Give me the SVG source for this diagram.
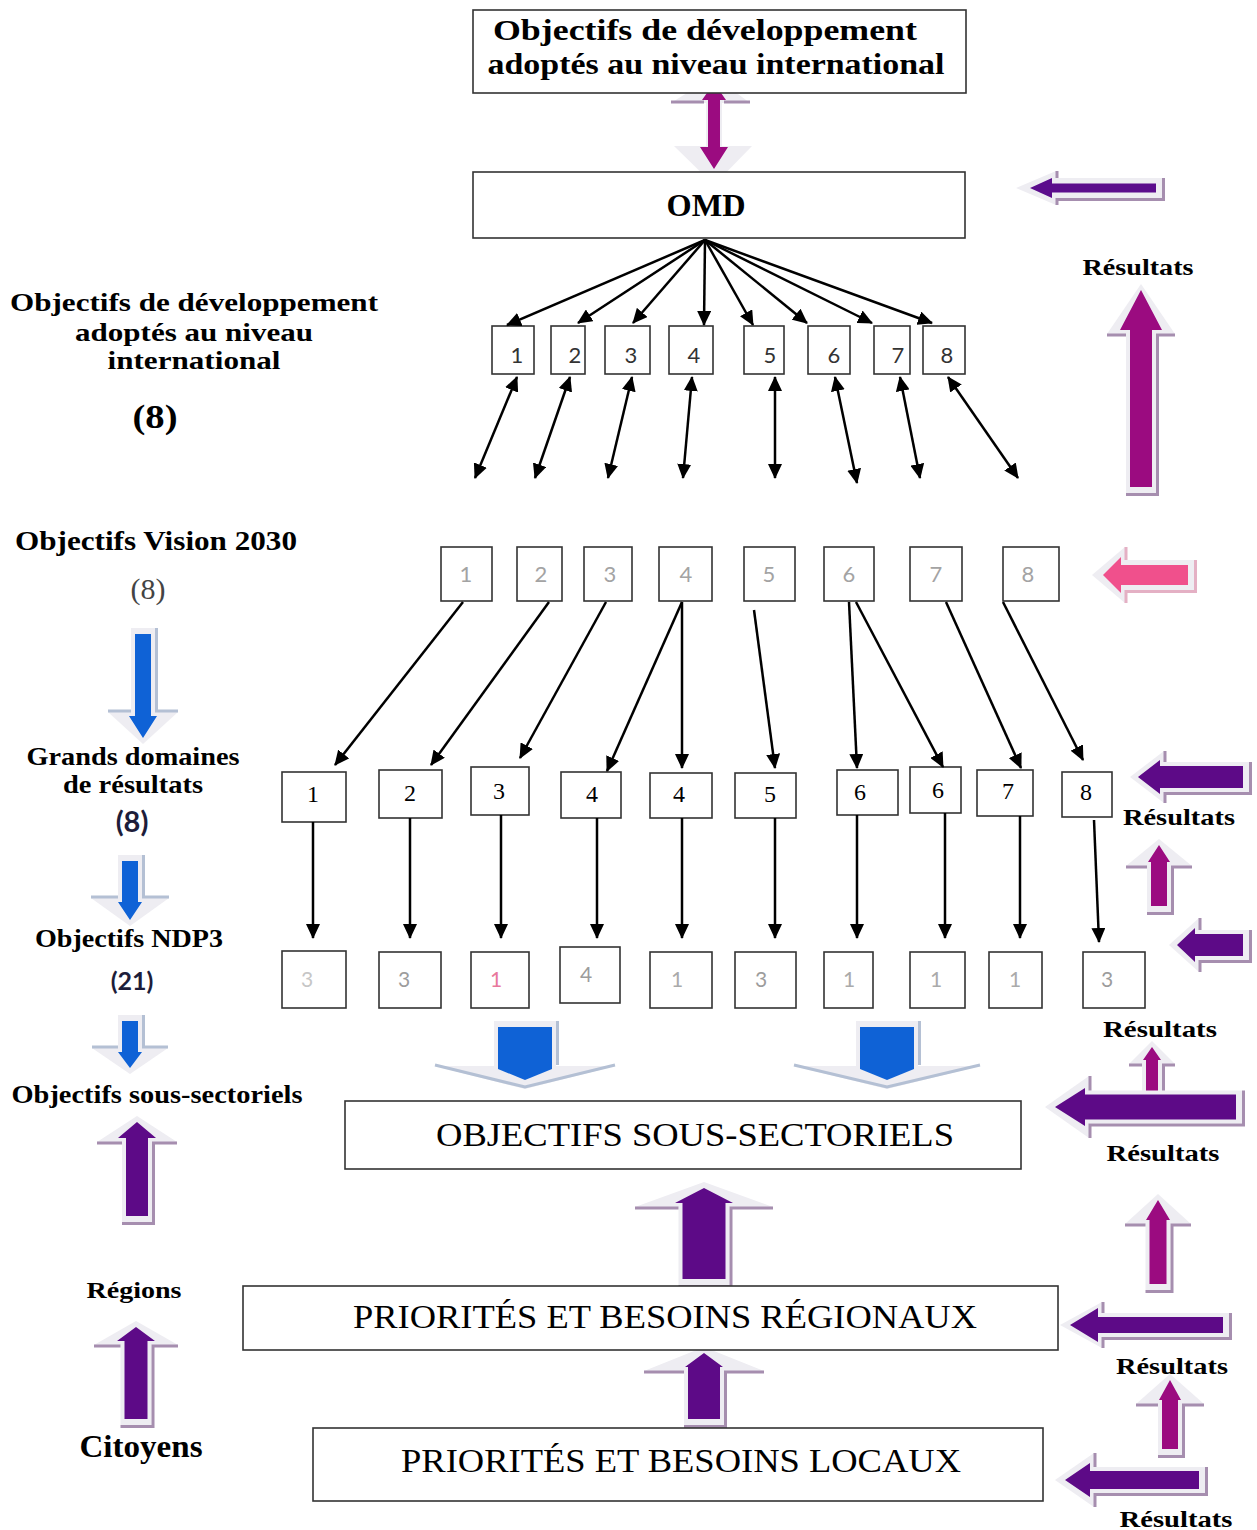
<svg xmlns="http://www.w3.org/2000/svg" width="1257" height="1530" viewBox="0 0 1257 1530">
<style>
.bx{fill:#fff;stroke:#333;stroke-width:1.6}
.tb{font-family:"Liberation Serif","Times New Roman",serif;font-weight:bold;fill:#000;text-anchor:middle}
.tr{font-family:"Liberation Serif","Times New Roman",serif;fill:#000;text-anchor:middle}
.ts{font-family:Lato,"Open Sans",sans-serif;text-anchor:middle}
.cn{stroke:#000;stroke-width:2.5;fill:none}
.po{fill:#eeedf2}
.sh{stroke:#a68eaf;stroke-width:3;fill:none}
.shb{stroke:#b4c0d4;stroke-width:3;fill:none}
.mg{fill:#9b0b80}
.pu{fill:#5d0a87}
.bl{fill:#0f62d6}
.pk{fill:#f0508c}
</style>
<defs>
<marker id="ah" markerUnits="userSpaceOnUse" markerWidth="16" markerHeight="14" refX="14" refY="7" orient="auto-start-reverse">
<path d="M0,0 L15,7 L0,14 Z" fill="#000"/>
</marker>
</defs>
<rect width="1257" height="1530" fill="#fff"/>

<!-- block arrows -->
<g id="block-arrows">
<g id="ba-top">
<path class="po" d="M714,76 L750,103 L722,103 L722,146 L752,146 L714,185 L674,146 L706,146 L706,103 L671,103 Z"/>
<path class="sh" d="M671,102 H704 M724,102 H750"/>
<path class="mg" d="M714,83 L726,100 L720,100 L720,147 L728,147 L714,169 L700,147 L708,147 L708,100 L702,100 Z"/>
</g>
<g id="ba-r1" transform="translate(1141,290)">
<path class="po" d="M0,-6 L34,44 L15,44 L15,203 L-15,203 L-15,44 L-34,44 Z"/>
<path class="sh" d="M-34,45 H-15 M15,45 H34 M-15,204.5 H16.5 V45"/>
<path class="mg" d="M0,0 L21,40 L11,40 L11,197 L-11,197 L-11,40 L-21,40 Z"/>
</g>
<g id="ba-r2" transform="translate(1159,845)">
<path class="po" d="M0,-6 L33,21 L12,21 L12,67 L-12,67 L-12,21 L-33,21 Z"/>
<path class="sh" d="M-33,22 H-12 M12,22 H33 M-12,68.5 H13.5 V22"/>
<path class="mg" d="M0,0 L11,17 L8,17 L8,61 L-8,61 L-8,17 L-11,17 Z"/>
</g>
<g id="ba-r3" transform="translate(1152,1047)">
<path class="po" d="M0,-6 L23,17 L10,17 L10,55 L-10,55 L-10,17 L-23,17 Z"/>
<path class="sh" d="M-23,18 H-10 M10,18 H23 M-10,56.5 H11.5 V18"/>
<path class="mg" d="M0,0 L9,13 L6,13 L6,49 L-6,49 L-6,13 L-9,13 Z"/>
</g>
<g id="ba-r4" transform="translate(1158,1200)">
<path class="po" d="M0,-6 L33,24 L12.5,24 L12.5,90 L-12.5,90 L-12.5,24 L-33,24 Z"/>
<path class="sh" d="M-33,25 H-12.5 M12.5,25 H33 M-12.5,91.5 H14 V25"/>
<path class="mg" d="M0,0 L12,20 L8.5,20 L8.5,84 L-8.5,84 L-8.5,20 L-12,20 Z"/>
</g>
<g id="ba-r5" transform="translate(1170,1380)">
<path class="po" d="M0,-6 L34,24 L12,24 L12,75 L-12,75 L-12,24 L-34,24 Z"/>
<path class="sh" d="M-34,25 H-12 M12,25 H34 M-12,76.5 H13.5 V25"/>
<path class="mg" d="M0,0 L11,20 L8,20 L8,69 L-8,69 L-8,20 L-11,20 Z"/>
</g>
<g id="ba-l1" transform="translate(137,1122)">
<path class="po" d="M0,-6 L40,20 L15,20 L15,100 L-15,100 L-15,20 L-40,20 Z"/>
<path class="sh" d="M-40,21 H-15 M15,21 H40 M-15,101.5 H16.5 V21"/>
<path class="pu" d="M0,0 L19,16 L11,16 L11,94 L-11,94 L-11,16 L-19,16 Z"/>
</g>
<g id="ba-l2" transform="translate(136,1327)">
<path class="po" d="M0,-6 L42,18 L15.5,18 L15.5,98 L-15.5,98 L-15.5,18 L-42,18 Z"/>
<path class="sh" d="M-42,19 H-15.5 M15.5,19 H42 M-15.5,99.5 H17 V19"/>
<path class="pu" d="M0,0 L19,14 L11.5,14 L11.5,92 L-11.5,92 L-11.5,14 L-19,14 Z"/>
</g>
<g id="ba-c1" transform="translate(704,1188)">
<path class="po" d="M0,-6 L69,19 L25.5,19 L25.5,97 L-25.5,97 L-25.5,19 L-69,19 Z"/>
<path class="sh" d="M-69,20 H-25.5 M25.5,20 H69 M-25.5,98.5 H27 V20"/>
<path class="pu" d="M0,0 L29,15 L21.5,15 L21.5,91 L-21.5,91 L-21.5,15 L-29,15 Z"/>
</g>
<g id="ba-c2" transform="translate(704,1353)">
<path class="po" d="M0,-6 L60,18 L20,18 L20,72 L-20,72 L-20,18 L-60,18 Z"/>
<path class="sh" d="M-60,19 H-20 M20,19 H60 M-20,73.5 H21.5 V19"/>
<path class="pu" d="M0,0 L19,14 L16,14 L16,66 L-16,66 L-16,14 L-19,14 Z"/>
</g>
<g id="ba-h1" transform="matrix(0,1,1,0,1030,188)">
<path class="po" d="M0,-14 L17,26 L10,26 L10,132 L-10,132 L-10,26 L-17,26 Z"/>
<path class="sh" d="M-17,27 H-10 M10,27 H17 M-10,133.5 H11.5 V27"/>
<path d="M0,0 L10,22 L4.5,22 L4.5,126 L-4.5,126 L-4.5,22 L-10,22 Z" fill="#5b0d8c"/>
</g>
<g id="ba-h2" transform="matrix(0,1,1,0,1103,575)">
<path class="po" d="M0,-11 L28,22 L15,22 L15,91 L-15,91 L-15,22 L-28,22 Z"/>
<path class="sh" d="M-28,23 H-15 M15,23 H28 M-15,92.5 H16.5 V23" style="stroke:#e4b0c4"/>
<path class="pk" d="M0,0 L18,18 L10,18 L10,85 L-10,85 L-10,18 L-18,18 Z"/>
</g>
<g id="ba-h3" transform="matrix(0,1,1,0,1138,777)">
<path class="po" d="M0,-8 L26,26 L15,26 L15,111 L-15,111 L-15,26 L-26,26 Z"/>
<path class="sh" d="M-26,27 H-15 M15,27 H26 M-15,112.5 H16.5 V27"/>
<path class="pu" d="M0,0 L17,22 L11,22 L11,105 L-11,105 L-11,22 L-17,22 Z"/>
</g>
<g id="ba-h4" transform="matrix(0,1,1,0,1177,945)">
<path class="po" d="M0,-8 L27,22 L15,22 L15,72 L-15,72 L-15,22 L-27,22 Z"/>
<path class="sh" d="M-27,23 H-15 M15,23 H27 M-15,73.5 H16.5 V23"/>
<path class="pu" d="M0,0 L17,18 L11,18 L11,66 L-11,66 L-11,18 L-17,18 Z"/>
</g>
<g id="ba-h5" transform="matrix(0,1,1,0,1055,1107)">
<path class="po" d="M0,-10 L31,34 L16.5,34 L16.5,187 L-16.5,187 L-16.5,34 L-31,34 Z"/>
<path class="sh" d="M-31,35 H-16.5 M16.5,35 H31 M-16.5,188.5 H18 V35"/>
<path class="pu" d="M0,0 L19,30 L12.5,30 L12.5,181 L-12.5,181 L-12.5,30 L-19,30 Z"/>
</g>
<g id="ba-h6" transform="matrix(0,1,1,0,1070,1325)">
<path class="po" d="M0,-10 L23,32 L12,32 L12,159 L-12,159 L-12,32 L-23,32 Z"/>
<path class="sh" d="M-23,33 H-12 M12,33 H23 M-12,160.5 H13.5 V33"/>
<path class="pu" d="M0,0 L17,28 L8,28 L8,153 L-8,153 L-8,28 L-17,28 Z"/>
</g>
<g id="ba-h7" transform="matrix(0,1,1,0,1065,1480)">
<path class="po" d="M0,-10 L27,29 L13,29 L13,140 L-13,140 L-13,29 L-27,29 Z"/>
<path class="sh" d="M-27,30 H-13 M13,30 H27 M-13,141.5 H14.5 V30"/>
<path class="pu" d="M0,0 L17,25 L9,25 L9,134 L-9,134 L-9,25 L-17,25 Z"/>
</g>
<g id="ba-d1" transform="translate(143,738) scale(1,-1)">
<path class="po" d="M0,-6 L35,26 L12,26 L12,110 L-12,110 L-12,26 L-35,26 Z"/>
<path class="shb" d="M-35,27 H-12 M12,27 H35 M13.5,110 V27"/>
<path class="bl" d="M0,0 L14,22 L8,22 L8,104 L-8,104 L-8,22 L-14,22 Z"/>
</g>
<g id="ba-d2" transform="translate(130,920) scale(1,-1)">
<path class="po" d="M0,-6 L39,22 L12,22 L12,65 L-12,65 L-12,22 L-39,22 Z"/>
<path class="shb" d="M-39,23 H-12 M12,23 H39 M13.5,65 V23"/>
<path class="bl" d="M0,0 L12,18 L8,18 L8,59 L-8,59 L-8,18 L-12,18 Z"/>
</g>
<g id="ba-d3" transform="translate(130,1068) scale(1,-1)">
<path class="po" d="M0,-6 L38,20 L12,20 L12,53 L-12,53 L-12,20 L-38,20 Z"/>
<path class="shb" d="M-38,21 H-12 M12,21 H38 M13.5,53 V21"/>
<path class="bl" d="M0,0 L12,16 L8,16 L8,47 L-8,47 L-8,16 L-12,16 Z"/>
</g>
<g id="ba-d4" transform="translate(525,1080) scale(1,-1)">
<path class="po" d="M0,-9 L90,14 L31,14 L31,59 L-31,59 L-31,14 L-90,14 Z"/>
<path class="shb" d="M-90,15 L0,-7 L90,15 M32.5,59 V15"/>
<path class="bl" d="M0,0 L27,11 L27,53 L-27,53 L-27,11 Z"/>
</g>
<g id="ba-d5" transform="translate(887,1080) scale(1,-1)">
<path class="po" d="M0,-9 L93,14 L31,14 L31,59 L-31,59 L-31,14 L-93,14 Z"/>
<path class="shb" d="M-93,15 L0,-7 L93,15 M32.5,59 V15"/>
<path class="bl" d="M0,0 L27,11 L27,53 L-27,53 L-27,11 Z"/>
</g>
</g>

<!-- nodes -->
<g id="node-top"><rect class="bx" x="473" y="10" width="493" height="83"/>
<text class="tb" x="705" y="40" font-size="29" textLength="424" lengthAdjust="spacingAndGlyphs">Objectifs de développement</text>
<text class="tb" x="716" y="74" font-size="29" textLength="457" lengthAdjust="spacingAndGlyphs">adoptés au niveau international</text></g>
<g id="node-omd"><rect class="bx" x="473" y="172" width="492" height="66"/>
<text class="tb" x="706" y="216" font-size="32" textLength="79" lengthAdjust="spacingAndGlyphs">OMD</text></g>

<g id="row1" font-size="22">
<g id="o1"><rect class="bx" x="492" y="326" width="42" height="48"/><text class="ts" x="517" y="363" fill="#333">1</text></g>
<g id="o2"><rect class="bx" x="551" y="326" width="34" height="48"/><text class="ts" x="575" y="363" fill="#333">2</text></g>
<g id="o3"><rect class="bx" x="605" y="326" width="45" height="48"/><text class="ts" x="631" y="363" fill="#333">3</text></g>
<g id="o4"><rect class="bx" x="669" y="326" width="44" height="48"/><text class="ts" x="694" y="363" fill="#333">4</text></g>
<g id="o5"><rect class="bx" x="744" y="326" width="40" height="48"/><text class="ts" x="770" y="363" fill="#333">5</text></g>
<g id="o6"><rect class="bx" x="808" y="326" width="42" height="48"/><text class="ts" x="834" y="363" fill="#333">6</text></g>
<g id="o7"><rect class="bx" x="874" y="326" width="36" height="48"/><text class="ts" x="898" y="363" fill="#333">7</text></g>
<g id="o8"><rect class="bx" x="923" y="326" width="42" height="48"/><text class="ts" x="947" y="363" fill="#333">8</text></g>
</g>

<g id="row2" font-size="22">
<g id="v1"><rect class="bx" x="441" y="547" width="51" height="54"/><text class="ts" x="466" y="582" fill="#a3a3a3">1</text></g>
<g id="v2"><rect class="bx" x="517" y="547" width="45" height="54"/><text class="ts" x="541" y="582" fill="#a3a3a3">2</text></g>
<g id="v3"><rect class="bx" x="584" y="547" width="48" height="54"/><text class="ts" x="610" y="582" fill="#a3a3a3">3</text></g>
<g id="v4"><rect class="bx" x="659" y="547" width="53" height="54"/><text class="ts" x="686" y="582" fill="#a3a3a3">4</text></g>
<g id="v5"><rect class="bx" x="744" y="547" width="51" height="54"/><text class="ts" x="769" y="582" fill="#a3a3a3">5</text></g>
<g id="v6"><rect class="bx" x="824" y="547" width="50" height="54"/><text class="ts" x="849" y="582" fill="#a3a3a3">6</text></g>
<g id="v7"><rect class="bx" x="910" y="547" width="52" height="54"/><text class="ts" x="936" y="582" fill="#a3a3a3">7</text></g>
<g id="v8"><rect class="bx" x="1003" y="547" width="56" height="54"/><text class="ts" x="1028" y="582" fill="#a3a3a3">8</text></g>
</g>

<g id="row3" font-size="24">
<g id="g1"><rect class="bx" x="282" y="772" width="64" height="50"/><text class="tr" x="313" y="802">1</text></g>
<g id="g2"><rect class="bx" x="379" y="770" width="63" height="48"/><text class="tr" x="410" y="801">2</text></g>
<g id="g3"><rect class="bx" x="471" y="767" width="58" height="48"/><text class="tr" x="499" y="799">3</text></g>
<g id="g4"><rect class="bx" x="561" y="772" width="60" height="46"/><text class="tr" x="592" y="802">4</text></g>
<g id="g5"><rect class="bx" x="650" y="773" width="62" height="45"/><text class="tr" x="679" y="802">4</text></g>
<g id="g6"><rect class="bx" x="735" y="773" width="61" height="45"/><text class="tr" x="770" y="802">5</text></g>
<g id="g7"><rect class="bx" x="837" y="770" width="61" height="45"/><text class="tr" x="860" y="800">6</text></g>
<g id="g8"><rect class="bx" x="910" y="767" width="51" height="46"/><text class="tr" x="938" y="798">6</text></g>
<g id="g9"><rect class="bx" x="977" y="770" width="56" height="46"/><text class="tr" x="1008" y="799">7</text></g>
<g id="g10"><rect class="bx" x="1062" y="772" width="50" height="45"/><text class="tr" x="1086" y="800">8</text></g>
</g>

<g id="row4" font-size="21">
<g id="n1"><rect class="bx" x="282" y="951" width="64" height="57"/><text class="ts" x="307" y="987" fill="#c6c6c6">3</text></g>
<g id="n2"><rect class="bx" x="379" y="952" width="62" height="56"/><text class="ts" x="404" y="987" fill="#9c9c9c">3</text></g>
<g id="n3"><rect class="bx" x="471" y="952" width="58" height="56"/><text class="ts" x="496" y="987" fill="#e8789c">1</text></g>
<g id="n4"><rect class="bx" x="560" y="947" width="60" height="56"/><text class="ts" x="586" y="982" fill="#9c9c9c">4</text></g>
<g id="n5"><rect class="bx" x="650" y="952" width="62" height="56"/><text class="ts" x="677" y="987" fill="#aaaaaa">1</text></g>
<g id="n6"><rect class="bx" x="735" y="952" width="61" height="56"/><text class="ts" x="761" y="987" fill="#9c9c9c">3</text></g>
<g id="n7"><rect class="bx" x="824" y="952" width="49" height="56"/><text class="ts" x="849" y="987" fill="#aaaaaa">1</text></g>
<g id="n8"><rect class="bx" x="910" y="952" width="55" height="56"/><text class="ts" x="936" y="987" fill="#aaaaaa">1</text></g>
<g id="n9"><rect class="bx" x="989" y="952" width="53" height="56"/><text class="ts" x="1015" y="987" fill="#aaaaaa">1</text></g>
<g id="n10"><rect class="bx" x="1083" y="952" width="62" height="56"/><text class="ts" x="1107" y="987" fill="#9c9c9c">3</text></g>
</g>

<g id="node-sous"><rect class="bx" x="345" y="1101" width="676" height="68"/>
<text class="tr" x="695" y="1146" font-size="33" textLength="518" lengthAdjust="spacingAndGlyphs">OBJECTIFS SOUS-SECTORIELS</text></g>
<g id="node-reg"><rect class="bx" x="243" y="1286" width="815" height="64"/>
<text class="tr" x="665" y="1328" font-size="33" textLength="624" lengthAdjust="spacingAndGlyphs">PRIORITÉS ET BESOINS RÉGIONAUX</text></g>
<g id="node-loc"><rect class="bx" x="313" y="1428" width="730" height="73"/>
<text class="tr" x="681" y="1472" font-size="33" textLength="560" lengthAdjust="spacingAndGlyphs">PRIORITÉS ET BESOINS LOCAUX</text></g>

<!-- labels -->
<g id="labels-left">
<text class="tb" x="194" y="311" font-size="26" textLength="368" lengthAdjust="spacingAndGlyphs">Objectifs de développement</text>
<text class="tb" x="194" y="341" font-size="26" textLength="238" lengthAdjust="spacingAndGlyphs">adoptés au niveau</text>
<text class="tb" x="194" y="369" font-size="26" textLength="173" lengthAdjust="spacingAndGlyphs">international</text>
<text class="tb" x="155" y="428" font-size="34" textLength="45" lengthAdjust="spacingAndGlyphs">(8)</text>
<text class="tb" x="156" y="550" font-size="27" textLength="282" lengthAdjust="spacingAndGlyphs">Objectifs Vision 2030</text>
<text class="tr" x="148" y="599" font-size="30" style="fill:#444">(8)</text>
<text class="tb" x="133" y="765" font-size="25" textLength="213" lengthAdjust="spacingAndGlyphs">Grands domaines</text>
<text class="tb" x="133" y="793" font-size="25" textLength="140" lengthAdjust="spacingAndGlyphs">de résultats</text>
<text class="ts" x="132" y="832" font-size="29" font-weight="bold" fill="#1d1d3a">(8)</text>
<text class="tb" x="129" y="947" font-size="25" textLength="188" lengthAdjust="spacingAndGlyphs">Objectifs NDP3</text>
<text class="ts" x="132" y="990" font-size="25" font-weight="bold" fill="#1d1d3a">(21)</text>
<text class="tb" x="157" y="1103" font-size="25" textLength="291" lengthAdjust="spacingAndGlyphs">Objectifs sous-sectoriels</text>
<text class="tb" x="134" y="1298" font-size="24" textLength="95" lengthAdjust="spacingAndGlyphs">Régions</text>
<text class="tb" x="141" y="1457" font-size="31" textLength="123" lengthAdjust="spacingAndGlyphs">Citoyens</text>
</g>
<g id="labels-right" font-size="23">
<text class="tb" x="1138" y="275" textLength="111" lengthAdjust="spacingAndGlyphs">Résultats</text>
<text class="tb" x="1179" y="825" textLength="112" lengthAdjust="spacingAndGlyphs">Résultats</text>
<text class="tb" x="1160" y="1037" textLength="114" lengthAdjust="spacingAndGlyphs">Résultats</text>
<text class="tb" x="1163" y="1161" textLength="113" lengthAdjust="spacingAndGlyphs">Résultats</text>
<text class="tb" x="1172" y="1374" textLength="112" lengthAdjust="spacingAndGlyphs">Résultats</text>
<text class="tb" x="1176" y="1527" textLength="113" lengthAdjust="spacingAndGlyphs">Résultats</text>
</g>

<!-- connectors -->
<g id="connectors" class="cn">
<path marker-end="url(#ah)" d="M705,240 L507,325"/>
<path marker-end="url(#ah)" d="M705,240 L578,323"/>
<path marker-end="url(#ah)" d="M705,240 L633,323"/>
<path marker-end="url(#ah)" d="M705,240 L704,325"/>
<path marker-end="url(#ah)" d="M705,240 L753,325"/>
<path marker-end="url(#ah)" d="M705,240 L807,323"/>
<path marker-end="url(#ah)" d="M705,240 L872,323"/>
<path marker-end="url(#ah)" d="M705,240 L932,323"/>

<path marker-start="url(#ah)" marker-end="url(#ah)" d="M517,377 L475,478"/>
<path marker-start="url(#ah)" marker-end="url(#ah)" d="M570,377 L535,478"/>
<path marker-start="url(#ah)" marker-end="url(#ah)" d="M632,377 L608,478"/>
<path marker-start="url(#ah)" marker-end="url(#ah)" d="M692,377 L683,478"/>
<path marker-start="url(#ah)" marker-end="url(#ah)" d="M775,377 L775,478"/>
<path marker-start="url(#ah)" marker-end="url(#ah)" d="M835,377 L857,483"/>
<path marker-start="url(#ah)" marker-end="url(#ah)" d="M900,377 L920,478"/>
<path marker-start="url(#ah)" marker-end="url(#ah)" d="M948,377 L1018,478"/>

<path marker-end="url(#ah)" d="M463,602 L335,765"/>
<path marker-end="url(#ah)" d="M549,602 L431,765"/>
<path marker-end="url(#ah)" d="M606,602 L520,758"/>
<path marker-end="url(#ah)" d="M682,602 L607,771"/>
<path marker-end="url(#ah)" d="M682,602 L682,768"/>
<path marker-end="url(#ah)" d="M754,610 L775,768"/>
<path marker-end="url(#ah)" d="M849,602 L857,768"/>
<path marker-end="url(#ah)" d="M856,602 L943,767"/>
<path marker-end="url(#ah)" d="M946,602 L1021,768"/>
<path marker-end="url(#ah)" d="M1003,602 L1083,760"/>

<path marker-end="url(#ah)" d="M313,822 L313,938"/>
<path marker-end="url(#ah)" d="M410,818 L410,938"/>
<path marker-end="url(#ah)" d="M501,815 L501,938"/>
<path marker-end="url(#ah)" d="M597,818 L597,938"/>
<path marker-end="url(#ah)" d="M682,818 L682,938"/>
<path marker-end="url(#ah)" d="M775,818 L775,938"/>
<path marker-end="url(#ah)" d="M857,815 L857,938"/>
<path marker-end="url(#ah)" d="M945,813 L945,938"/>
<path marker-end="url(#ah)" d="M1020,816 L1020,938"/>
<path marker-end="url(#ah)" d="M1094,820 L1099,942"/>
</g>
</svg>
